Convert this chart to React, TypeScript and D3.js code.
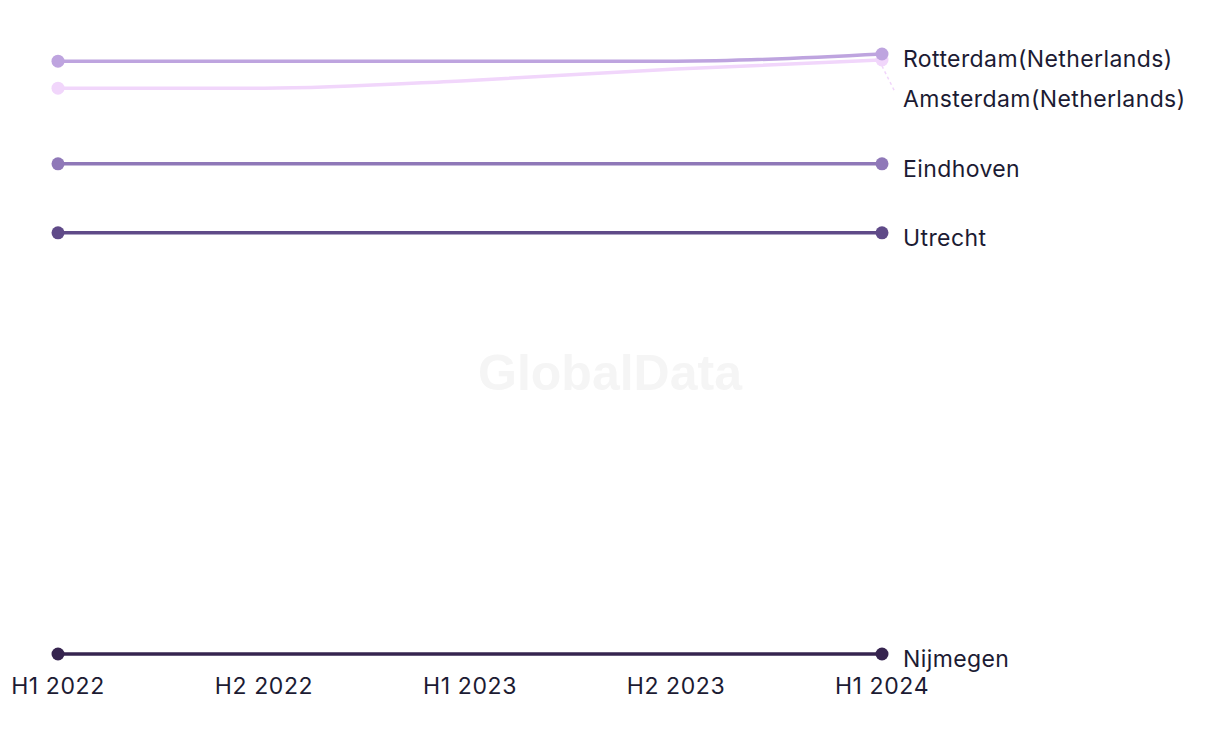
import React from "react";
import * as d3 from "d3";

const periods = ["H1 2022", "H2 2022", "H1 2023", "H2 2023", "H1 2024"];
const cities = ["Rotterdam(Netherlands)", "Amsterdam(Netherlands)", "Eindhoven", "Utrecht", "Nijmegen"];
const rotterdam = [98.8, 98.8, 98.8, 98.8, 100];
const amsterdam = [94.3, 94.3, 95.6, 97.5, 99];
const eindhoven = [81.7, 81.7, 81.7, 81.7, 81.7];
const utrecht = [70.2, 70.2, 70.2, 70.2, 70.2];
const nijmegen = [0, 0, 0, 0, 0];
const colors = ["#bea4df", "#f1d6fb", "#8f78b8", "#5f4a88", "#36244f"];
const seriesValues = [rotterdam, amsterdam, eindhoven, utrecht, nijmegen];

const W = 1220, H = 744;
const FONT = "Inter, 'Noto Sans', sans-serif";

export default function App() {
  const x = d3.scalePoint<string>().domain(periods).range([58, 882]);
  const y = d3.scaleLinear().domain([0, 100]).range([654, 54]);
  const line = d3.line<number>()
    .x((_, i) => x(periods[i])!)
    .y((v) => y(v))
    .curve(d3.curveMonotoneX);

  const order = [4, 3, 2, 1, 0];
  const lastIdx = periods.length - 1;

  const labels = cities.map((c, i) => ({ c, i, dotY: y(seriesValues[i][lastIdx]), ly: y(seriesValues[i][lastIdx]) + 5 }));
  const sorted = [...labels].sort((a, b) => a.ly - b.ly);
  for (let k = 1; k < sorted.length; k++) {
    if (sorted[k].ly - sorted[k - 1].ly < 40) sorted[k].ly = sorted[k - 1].ly + 40;
  }
  const xEnd = x(periods[lastIdx])!;

  return (
    <svg width={W} height={H} style={{ position: "absolute", left: 0, top: 0 }}>
      <rect width={W} height={H} fill="#fff" />
      <text x={610} y={373} textAnchor="middle" dominantBaseline="central" fontFamily="'Liberation Sans', Arial, sans-serif" fontWeight={700} fontSize={50} fill="#f5f5f5">GlobalData</text>
      {order.map((i) => (
        <g key={cities[i]}>
          <path d={line(seriesValues[i])!} fill="none" stroke={colors[i]} strokeWidth={3.5} />
          {[0, lastIdx].map((j) => (
            <circle key={j} cx={x(periods[j])!} cy={y(seriesValues[i][j])} r={6.5} fill={colors[i]} />
          ))}
        </g>
      ))}
      {labels.map((l) =>
        l.ly - l.dotY > 12 ? (
          <line key={"c" + l.i} x1={xEnd} y1={l.dotY + 6} x2={xEnd + 13} y2={l.ly - 7} stroke={colors[l.i]} strokeWidth={1.5} strokeDasharray="3,3" />
        ) : null
      )}
      {labels.map((l) => (
        <text key={l.c} x={903} y={l.ly} dominantBaseline="central" fontFamily={FONT} fontSize={23} letterSpacing={0.4} fill="#1c1b33">{l.c}</text>
      ))}
      {periods.map((p) => (
        <text key={p} x={x(p)!} y={686} textAnchor="middle" dominantBaseline="central" fontFamily={FONT} fontSize={23} letterSpacing={0.6} fill="#1c1b33">{p}</text>
      ))}
    </svg>
  );
}
